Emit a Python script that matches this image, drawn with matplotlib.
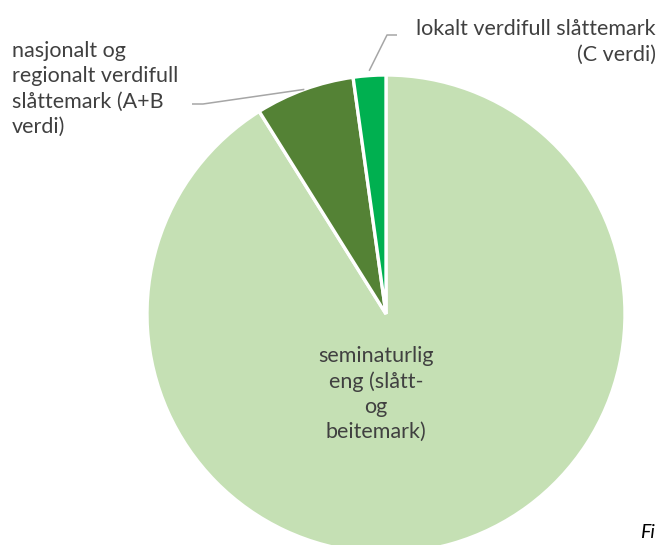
import numpy as np
import matplotlib
matplotlib.use("Agg")
import matplotlib.pyplot as plt

categories = ["seminaturlig\neng (slått-\nog\nbeitemark)",
              "nasjonalt og\nregionalt verdifull\nslåttemark (A+B\nverdi)",
              "lokalt verdifull slåttemark\n(C verdi)"]
values = [91.1, 6.7, 2.2]
colors = ["#C5E0B4", "#548235", "#00B050"]

W, H = 663, 545
fig = plt.figure(figsize=(W/100, H/100), dpi=100)
ax = fig.add_axes([0, 0, 1, 1])
R = 239.0
cx, cy = 386.0, 314.0

wedges, _ = ax.pie(values, colors=colors, startangle=90, counterclock=False,
                   radius=1, center=(0, 0),
                   wedgeprops=dict(edgecolor="white", linewidth=2.4))
ax.set_xlim(-cx/R, (W-cx)/R)
ax.set_ylim(-(H-cy)/R, cy/R)
ax.axis("off")

font = "Lato"
tc = "#404040"
fs = 15.5
ls = 1.32

def px(x, y):
    return ((x-cx)/R, (cy-y)/R)

# center label for main slice
ax.text(*px(376, 394), categories[0], ha="center", va="center",
        fontsize=fs, color=tc, family=font, linespacing=ls)

# A+B label with leader
w = wedges[1]
mid = np.deg2rad((w.theta1 + w.theta2)/2)
pt = (np.cos(mid), np.sin(mid))
ax.text(*px(12, 89), categories[1], ha="left", va="center",
        fontsize=fs, color=tc, family=font, linespacing=ls)
ax.plot([px(192, 104)[0], px(203, 104)[0], pt[0]],
        [px(192, 104)[1], px(203, 104)[1], pt[1]],
        color="#A6A6A6", lw=1.1, solid_capstyle="butt")

# C label with leader
w = wedges[2]
mid = np.deg2rad((w.theta1 + w.theta2)/2)
pt = (np.cos(mid)*1.02, np.sin(mid)*1.02)
ax.text(*px(656, 42), categories[2], ha="right", va="center",
        fontsize=fs, color=tc, family=font, linespacing=ls,
        multialignment="right")
ax.plot([pt[0], px(387, 35)[0], px(397, 35)[0]],
        [pt[1], px(387, 35)[1], px(397, 35)[1]],
        color="#A6A6A6", lw=1.1, solid_capstyle="butt")

# cut-off caption as seen in the reference
fig.text(640/W, 1-533/H, "Fi", ha="left", va="center", fontsize=14,
         style="italic", color="black", family=font)

fig.savefig("out.png", dpi=100)
